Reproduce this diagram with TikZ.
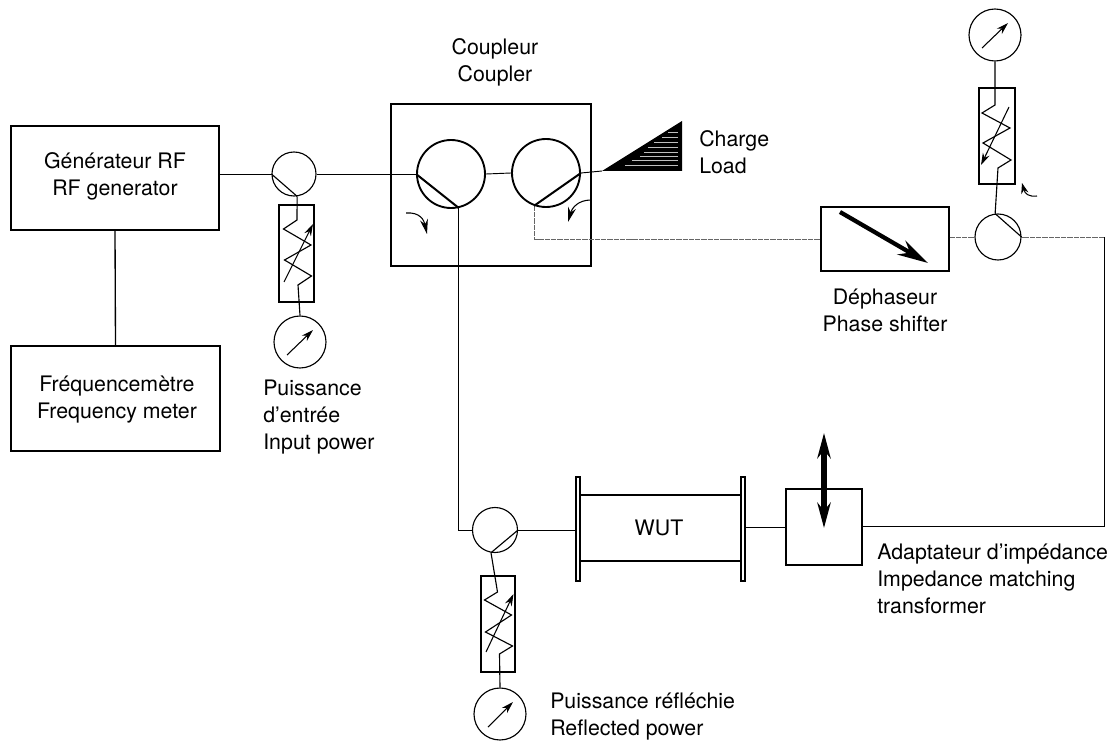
\documentclass[tikz,border=0pt]{standalone}
\usepackage{fontspec}
\setmainfont{TeX Gyre Heros}
\usetikzlibrary{arrows.meta}
\tikzset{
  px/.style={x=0.75pt,y=-0.75pt},
  boxn/.style 2 args={draw,rectangle,inner sep=0pt,line width=0.85pt,minimum width=#1*0.75pt,minimum height=#2*0.75pt},
  circn/.style={draw,circle,inner sep=0pt,line width=0.85pt,minimum size=#1*1.5pt},
  bigc/.style={draw,circle,inner sep=0pt,line width=1.4pt,minimum size=68*0.75pt},
  wire/.style={line width=0.7pt},
  faint/.style={line width=0.5pt,black!60,dash pattern=on 4pt off 0.7pt},
  chord/.style={line width=0.85pt},
  thickchord/.style={line width=1.5pt},
  zig/.style={line width=0.85pt,line join=miter},
  needle/.style={line width=0.8pt,-{Stealth[length=9pt,width=5.5pt]}},
  turn/.style={line width=0.8pt,-{Stealth[length=11pt,width=6pt]}},
  turnsmall/.style={line width=0.8pt,-{Stealth[length=8pt,width=5.5pt]}},
  lab/.style={align=center,inner sep=0pt,font=\fontsize{16}{20.25}\selectfont},
  labl/.style={align=left,inner sep=0pt,font=\fontsize{16}{20.25}\selectfont},
}
\begin{document}
\begin{tikzpicture}[px]
\useasboundingbox (0,0) rectangle (1115,742);
% Boxes
\node[boxn={208}{104}] (gen) at (115,178) {};
\node[boxn={209}{105}] (freq) at (115.5,398.5) {};
\node[boxn={200}{162}] (coupler) at (491,185) {};
\node[boxn={128}{64}] (shift) at (885,239) {};
\node[boxn={76}{76}] (match) at (824,527) {};
\node[boxn={161}{66}] (wut) at (660.5,528) {};
\node[boxn={4}{104}] (flangeL) at (578,529) {};
\node[boxn={4}{104}] (flangeR) at (743,529) {};
% Circles
\node[circn=22] (c1) at (294,174) {};
\node[circn=22.5] (c2) at (495,530) {};
\node[circn=23] (c3) at (998,237) {};
\node[circn=26] (m1) at (300,342) {};
\node[circn=26] (m2) at (500,714) {};
\node[circn=26] (m3) at (995,35) {};
\node[bigc] (ca) at (451,174) {};
\node[bigc] (cb) at (546,173) {};
% Attenuators
\node[boxn={35}{97}] (a1) at (296.5,253.5) {};
\node[boxn={34}{96}] (a2) at (498,624) {};
\node[boxn={36}{96}] (a3) at (997,136) {};
% Wires
\draw[line width=1pt] (gen.south) -- (freq.north);
\draw[wire] (gen.east |- c1.west) -- (c1.west);
\draw[wire] (c1.east) -- (ca.west);
\draw[wire] (ca.east) -- (cb.west);
\draw[wire] (ca.-77) |- (c2.west);
\draw[wire] (c2.east) -- (flangeL.west |- c2.east);
\draw[wire] (flangeR.east |- match.west) -- (match.west);
\coordinate (corner1) at (1104,526);
\coordinate (corner2) at (1104,237);
\draw[wire] (match.east) ++(0,-1) -- (corner1) -- (corner2);
\draw[faint] (corner2) -- (c3.east);
\draw[faint] (shift.east |- c3.west) -- (c3.west);
\draw[faint] (cb.-110) |- (shift.west);
% Chords
\draw[chord] (c1.west) -- (c1.-82);
\draw[chord] (c2.east) -- (c2.-100);
\draw[chord] (c3.east) -- (c3.97);
\draw[thickchord] (ca.west) -- (ca.-77);
\draw[thickchord] (cb.east) -- (cb.-110);
% Zigzag resistors
\draw[zig] (c1.-82) -- (297,220) -- (283.5,229) -- (311,245) -- (284.5,260) -- (311.5,276) -- (298,285) -- (m1.north);
\draw[zig] (c2.-100) -- (497.5,592) -- (484.5,600) -- (511.5,615) -- (485.5,632) -- (512.5,646) -- (499.5,654) -- (m2.north);
\draw[zig] (m3.south) -- (995,105) -- (982,113) -- (1010,128) -- (983,143) -- (1011,160) -- (998,168) -- (c3.97);
% Needles
\draw[needle] (284,282) -- (313,224);
\draw[needle] (486,652) -- (513.5,594);
\draw[needle] (1009,107) -- (981,165);
\draw[needle] (287,355) -- (313,330);
\draw[needle] (488,727) -- (513,702);
\draw[needle] (982,48) -- (1008,23);
% Load
\coordinate (loadtip) at (602,171);
\draw[wire] (cb.east) -- (loadtip);
\fill (loadtip) -- (682,121) -- (682,171) -- cycle;
\foreach \yy/\xa in {132/668,137/662,142/654,147/648,152/644,156/640,160/632,165/625}
  \draw[black!25,line width=0.35pt] (\xa,\yy) -- (678,\yy);
% Curved arrows
\draw[turn] (406,213) .. controls (420,212) and (424,220) .. (427,234);
\draw[turn] (591,200) .. controls (578,200) and (572,208) .. (568,222);
\draw[turnsmall] (1037,196) .. controls (1029,197) and (1025,194) .. (1022,183);
% Phase shifter arrow
\coordinate (sa) at (840,212);
\coordinate (sb) at (928,263);
\draw[line width=3.2pt,-{Stealth[length=23pt,width=12pt]}] (sa) -- (sb);
% Match arrow
\coordinate (ua) at (824,433);
\coordinate (ub) at (824,528);
\draw[line width=3.8pt,{Stealth[length=19pt,width=10pt]}-{Stealth[length=19pt,width=10pt]}] (ua) -- (ub);
% Labels
\node[lab] (tgen) at (115,176) {Générateur RF\\RF generator};
\node[lab] (tfreq) at (117,400) {Fréquencemètre\\Frequency meter};
\node[lab] (tcoup) at (495,62.5) {Coupleur\\Coupler};
\node[labl,anchor=west] (tload) at (699,152.5) {Charge\\Load};
\node[labl,anchor=west] (tin) at (263,417) {Puissance\\d’entrée\\Input power};
\node[lab] (tshift) at (885,310.5) {Déphaseur\\Phase shifter};
\node[labl,anchor=west] (tmatch) at (877,579) {Adaptateur d’impédance\\Impedance matching\\transformer};
\node[lab] (twut) at (659,528) {WUT};
\node[labl,anchor=west] (trefl) at (550,716.5) {Puissance réfléchie\\Reflected power};
\end{tikzpicture}
\end{document}
